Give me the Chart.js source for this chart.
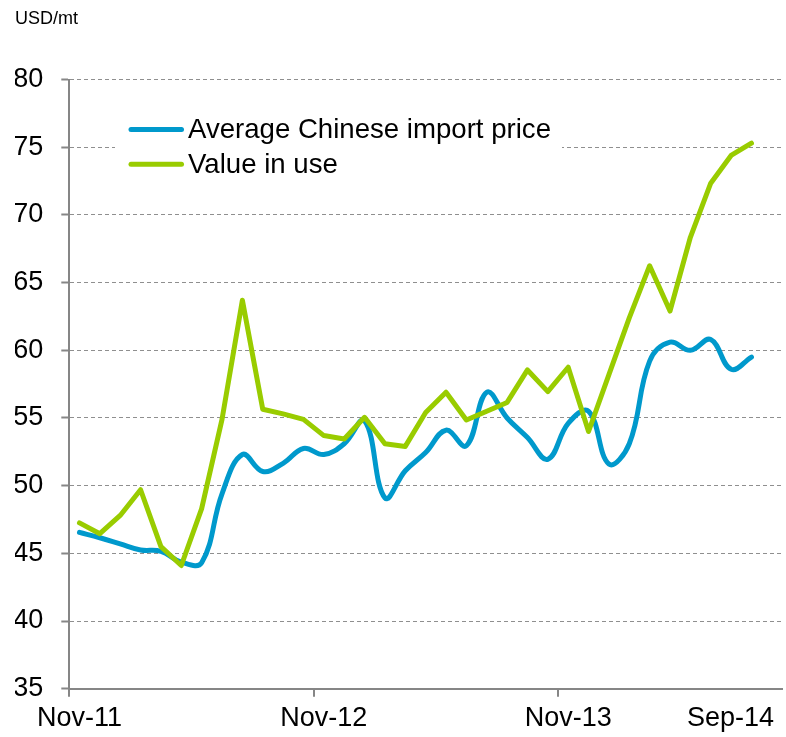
<!DOCTYPE html>
<html>
<head>
<meta charset="utf-8">
<script src="https://cdn.jsdelivr.net/npm/chart.js@4"></script>
<style>html,body{margin:0;padding:0;background:#fff}#c{display:block}</style>
</head>
<body>
<canvas id="c" width="786" height="737"></canvas>
<script>
const months = ['Nov-11','Dec-11','Jan-12','Feb-12','Mar-12','Apr-12','May-12','Jun-12','Jul-12','Aug-12','Sep-12','Oct-12',
  'Nov-12','Dec-12','Jan-13','Feb-13','Mar-13','Apr-13','May-13','Jun-13','Jul-13','Aug-13','Sep-13','Oct-13',
  'Nov-13','Dec-13','Jan-14','Feb-14','Mar-14','Apr-14','May-14','Jun-14','Jul-14','Aug-14','Sep-14'];

const importPrice = [46.55,46.15,45.7,45.25,45.15,44.35,44.3,49.4,52.3,51.05,51.65,52.75,
  52.3,53.1,54.8,49.1,51.1,52.45,54.1,52.95,56.9,55.0,53.55,51.95,
  54.6,55.5,51.6,53.1,59.2,60.6,60.0,60.8,58.6,59.5,null];

const valueInUse = [47.25,46.45,47.8,49.7,45.5,44.1,48.3,54.9,63.7,55.65,55.3,54.9,
  53.7,53.45,55.05,53.1,52.9,55.4,56.9,54.85,55.5,56.15,58.55,56.95,
  58.75,54.0,58.2,62.4,66.25,62.9,68.35,72.35,74.4,75.3,null];

const seriesNames = ['Average Chinese import price', 'Value in use'];
const xTickIndex = [0, 12, 24, 34];
const xTickText = ['Nov-11', 'Nov-12', 'Nov-13', 'Sep-14'];
const xTickMarks = [0, 12, 24];
const yMin = 35, yMax = 80, yStep = 5;
const unitLabel = 'USD/mt';

const BLUE = '#0099cc';
const GREEN = '#99cc00';
const AXIS = '#868686';
const GRID = '#8f8f8f';
const FONT = '"Liberation Sans", Arial, Helvetica, sans-serif';

Chart.defaults.font.family = FONT;
Chart.defaults.color = '#000';

const insideLegend = {
  id: 'insideLegend',
  beforeDatasetsDraw(chart) {
    const ctx = chart.ctx;
    ctx.save();
    ctx.fillStyle = '#fff';
    ctx.fillRect(115, 104, 447, 82);
    const rows = [129.5, 164.2];
    chart.data.datasets.forEach((ds, i) => {
      const y = rows[i];
      ctx.strokeStyle = ds.borderColor;
      ctx.lineWidth = 5;
      ctx.lineCap = 'round';
      ctx.beginPath();
      ctx.moveTo(131, y);
      ctx.lineTo(181.5, y);
      ctx.stroke();
      ctx.fillStyle = '#000';
      ctx.font = '27.6px ' + FONT;
      ctx.textBaseline = 'middle';
      ctx.textAlign = 'left';
      ctx.fillText(ds.label, 188, y + 1);
    });
    ctx.restore();
  }
};

new Chart(document.getElementById('c'), {
  type: 'line',
  data: {
    labels: months,
    datasets: [
      {label: seriesNames[0], data: importPrice, borderColor: BLUE, backgroundColor: BLUE,
       borderWidth: 5, tension: 0.4, pointRadius: 0, borderCapStyle: 'round', borderJoinStyle: 'round', order: 1},
      {label: seriesNames[1], data: valueInUse, borderColor: GREEN, backgroundColor: GREEN,
       borderWidth: 5, tension: 0, pointRadius: 0, borderCapStyle: 'round', borderJoinStyle: 'round', order: 0}
    ]
  },
  options: {
    responsive: false,
    animation: false,
    devicePixelRatio: 1,
    layout: {padding: {left: 15, right: 4, top: 0, bottom: 0}},
    plugins: {
      legend: {display: false},
      tooltip: {enabled: false},
      title: {display: true, text: unitLabel, align: 'start', color: '#000',
              font: {size: 18, weight: 'normal'}, padding: {top: 8, bottom: 50}}
    },
    scales: {
      x: {
        type: 'category',
        offset: true,
        grid: {
          offset: true, drawOnChartArea: false, drawTicks: true, tickLength: 8,
          lineWidth: 2, tickWidth: 2,
          color: c => xTickMarks.includes(c.index) ? AXIS : 'rgba(0,0,0,0)',
          tickColor: c => xTickMarks.includes(c.index) ? AXIS : 'rgba(0,0,0,0)'
        },
        border: {display: true, color: AXIS, width: 2},
        ticks: {
          autoSkip: false, maxRotation: 0, minRotation: 0, padding: 6,
          font: {size: 27}, color: '#000',
          callback: (v, i) => {
            const j = xTickIndex.indexOf(i);
            if (j < 0) return '';
            return j === xTickText.length - 1 ? xTickText[j] + ' '.repeat(11) : xTickText[j];
          }
        },
        afterFit: s => { s.height = 48.3; s.paddingLeft = 0; s.paddingRight = 0; }
      },
      y: {
        min: yMin, max: yMax,
        ticks: {stepSize: yStep, padding: 18, font: {size: 27}, color: '#000'},
        grid: {
          lineWidth: 1, tickLength: 8, tickWidth: 2, tickColor: AXIS,
          color: c => (c.tick && c.tick.value === yMin) ? 'rgba(0,0,0,0)' : GRID
        },
        border: {display: true, color: AXIS, width: 2, dash: [4, 3]},
        afterFit: s => { s.width = 54.3; }
      }
    }
  },
  plugins: [insideLegend]
});
</script>
</body>
</html>
